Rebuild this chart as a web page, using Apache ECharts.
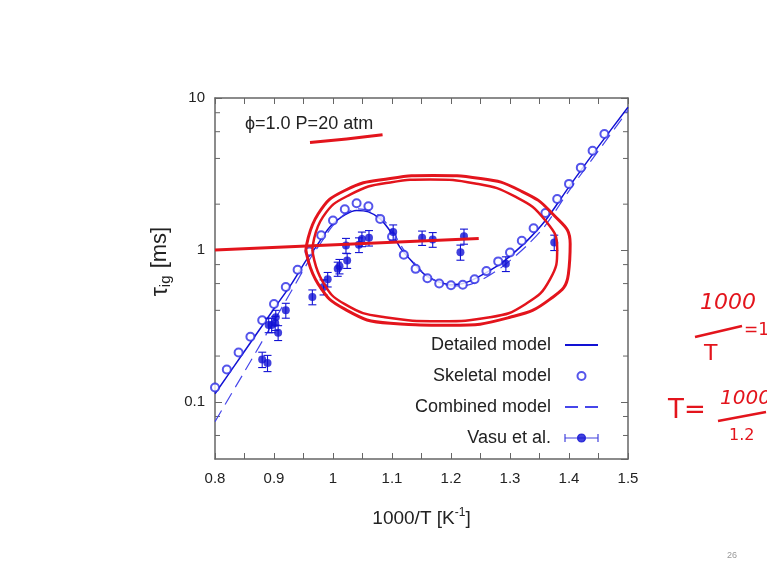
<!DOCTYPE html>
<html>
<head>
<meta charset="utf-8">
<script src="https://cdn.jsdelivr.net/npm/echarts@6/dist/echarts.min.js"></script>
<style>html,body{margin:0;padding:0;background:#fff}#c{width:767px;height:575px}</style>
</head>
<body>
<div id="c"></div>
<script>
// ---- Data ----
const skeletalX = [0.80,0.82,0.84,0.86,0.88,0.90,0.92,0.94,0.96,0.98,1.00,1.02,1.04,1.06,1.08,1.10,1.12,1.14,1.16,1.18,1.20,1.22,1.24,1.26,1.28,1.30,1.32,1.34,1.36,1.38,1.40,1.42,1.44,1.46];
const skeletalY = [0.124,0.163,0.211,0.268,0.344,0.44,0.57,0.74,0.975,1.25,1.56,1.85,2.03,1.94,1.60,1.22,0.93,0.75,0.65,0.60,0.585,0.59,0.64,0.725,0.84,0.96,1.15,1.39,1.75,2.16,2.72,3.48,4.5,5.8];

const detailedX = [0.80,0.85,0.90,0.93,0.955,0.97,0.995,1.02,1.04,1.06,1.08,1.10,1.115,1.135,1.155,1.175,1.20,1.22,1.245,1.28,1.30,1.33,1.36,1.40,1.45,1.50];
const detailedY = [0.113,0.215,0.41,0.60,0.86,1.03,1.42,1.70,1.82,1.78,1.60,1.28,1.02,0.83,0.69,0.625,0.59,0.60,0.66,0.79,0.91,1.16,1.56,2.6,4.8,8.7];

const combinedX = [0.80,0.85,0.90,0.93,0.96,0.98,1.00,1.02,1.04,1.06,1.08,1.10,1.12,1.14,1.16,1.18,1.20,1.22,1.25,1.28,1.30,1.33,1.36,1.40,1.45,1.50];
const combinedY = [0.074,0.158,0.34,0.54,0.86,1.12,1.45,1.72,1.86,1.82,1.66,1.34,1.0,0.80,0.67,0.61,0.58,0.58,0.63,0.74,0.85,1.08,1.45,2.45,4.5,8.3];

const vasuX = [0.880,0.889,0.891,0.896,0.902,0.903,0.907,0.920,0.965,0.984,0.991,1.008,1.011,1.022,1.024,1.044,1.049,1.061,1.102,1.151,1.169,1.216,1.222,1.293,1.375];
const vasuY = [0.19,0.18,0.32,0.32,0.33,0.36,0.285,0.40,0.49,0.57,0.64,0.75,0.78,1.07,0.85,1.08,1.18,1.20,1.31,1.20,1.17,0.965,1.23,0.81,1.12];
const vasuErr = [0.022,0.022,0.035,0.035,0.035,0.04,0.032,0.045,0.055,0.065,0.07,0.08,0.085,0.12,0.095,0.12,0.13,0.14,0.15,0.13,0.13,0.11,0.14,0.09,0.13];

const yDecadeLabels = [0.1, 1, 10];
const yMinorTicks = [0.06,0.08,0.2,0.4,0.6,0.8,2,4,6,8];

// hand-drawn red ink, read in data coordinates
const inkLineX = [0.80,1.247];
const inkLineY = [1.0,1.19];
const inkUnderX = [0.961,1.023,1.084];
const inkUnderY = [5.1,5.38,5.72];
const inkLoop1X = [0.954,0.975,1.020,1.097,1.170,1.250,1.317,1.372,1.402,1.399,1.368,1.300,1.199,1.097,1.020,0.975,0.954];
const inkLoop1Y = [1.0,1.73,2.46,2.95,3.09,2.95,2.46,1.73,1.096,0.694,0.474,0.36,0.319,0.329,0.407,0.595,1.0];
const inkLoop2X = [0.965,0.983,1.029,1.097,1.165,1.241,1.309,1.360,1.380,1.368,1.326,1.266,1.182,1.088,1.020,0.982,0.965];
const inkLoop2Y = [1.0,1.65,2.31,2.78,2.91,2.74,2.24,1.56,1.015,0.642,0.439,0.36,0.339,0.36,0.439,0.623,1.0];

const BLUE = '#1212d4';
const RED = '#e3141c';
const FONT = 'Liberation Sans, Arial, sans-serif';

const zip = (xs, ys) => xs.map((x, i) => [x, ys[i]]);

const chart = echarts.init(document.getElementById('c'), null, {renderer: 'canvas'});

function xAxisDef(pos, showLabel) {
  return {
    type: 'value', position: pos, min: 0.8, max: 1.5, interval: 0.1,
    axisLine: {show: true, onZero: false, lineStyle: {color: '#666', width: 1.5}},
    axisTick: {show: true, inside: true, length: 6, lineStyle: {color: '#666'}},
    minorTick: {show: true, splitNumber: 2, length: 6, lineStyle: {color: '#666'}},
    splitLine: {show: false},
    axisLabel: {show: showLabel, fontSize: 15, color: '#222', margin: 12, fontFamily: FONT},
    name: showLabel ? '1000/T [K{sup|-1}]' : '',
    nameLocation: 'middle', nameGap: 48,
    nameTextStyle: {fontSize: 19, color: '#222', fontFamily: FONT,
      rich: {sup: {fontSize: 12, color: '#222', fontFamily: FONT, padding: [0, 0, 12, 0]}}}
  };
}
function yAxisDef(pos, showLabel) {
  return {
    type: 'log', logBase: 10, position: pos, min: 0.042, max: 10,
    axisLine: {show: true, lineStyle: {color: '#666', width: 1.5}},
    axisTick: {show: true, inside: true, length: 7, lineStyle: {color: '#666'}},
    splitLine: {show: false},
    axisLabel: {show: showLabel, fontSize: 15, color: '#222', margin: 10, fontFamily: FONT,
      showMinLabel: false,
      formatter: v => {
        const hit = yDecadeLabels.find(d => Math.abs(Math.log10(v) - Math.log10(d)) < 1e-6);
        return hit === undefined ? '' : String(hit);
      }},
    name: showLabel ? '{t|τ}{s|ig} [ms]' : '',
    nameLocation: 'middle', nameGap: 34, nameRotate: 90,
    nameTextStyle: {fontSize: 22, color: '#222', fontFamily: FONT, padding: [0, 0, 0, 34],
      rich: {t: {fontSize: 23, color: '#222', fontFamily: FONT},
             s: {fontSize: 15, color: '#222', fontFamily: FONT, padding: [11, 1, 0, 0]}}}
  };
}

const hideSymbol = {opacity: 0};

const option = {
  animation: false,
  backgroundColor: '#ffffff',
  textStyle: {fontFamily: FONT},
  title: {text: 'ϕ=1.0 P=20 atm', left: 240, top: 110,
    textStyle: {fontSize: 18, fontWeight: 'normal', color: '#222', fontFamily: FONT}},
  grid: {left: 215, right: 139, top: 98, bottom: 116, containLabel: false},
  xAxis: [xAxisDef('bottom', true), xAxisDef('top', false)],
  yAxis: [yAxisDef('left', true), yAxisDef('right', false)],
  legend: {
    orient: 'vertical', align: 'right', right: 168, top: 335, padding: 0,
    itemWidth: 33, itemHeight: 8, itemGap: 11,
    textStyle: {fontSize: 18, color: '#222', fontFamily: FONT, lineHeight: 20, padding: [0, 9, 0, 0]},
    selectedMode: false,
    data: [
      {name: 'Detailed model', itemStyle: hideSymbol},
      {name: 'Skeletal model'},
      {name: 'Combined model', itemStyle: hideSymbol},
      {name: 'Vasu et al.', icon: 'path://M0,4L33,4M0,0L0,8M33,0L33,8M20.5,4A4,4,0,1,1,12.5,4A4,4,0,1,1,20.5,4Z',
        itemStyle: {color: BLUE, borderColor: BLUE, borderWidth: 1.2}}
    ]
  },
  series: [
    {name: 'Detailed model', type: 'line', data: zip(detailedX, detailedY), symbol: 'none', smooth: 0.3,
      lineStyle: {color: BLUE, width: 1.5}, itemStyle: {color: BLUE}, z: 3},
    {name: 'Skeletal model', type: 'scatter', data: zip(skeletalX, skeletalY), symbol: 'emptyCircle', symbolSize: 8,
      itemStyle: {color: '#2a2ae6', borderColor: '#2a2ae6', borderWidth: 1.1}, z: 4},
    {name: 'Combined model', type: 'line', data: zip(combinedX, combinedY), symbol: 'none', smooth: 0.3,
      lineStyle: {color: '#4646ea', width: 1.2, type: [13, 7]}, itemStyle: {color: '#4646ea'}, z: 3},
    {name: 'Vasu et al.', type: 'scatter', data: zip(vasuX, vasuY), symbol: 'circle', symbolSize: 8,
      itemStyle: {color: BLUE}, z: 5},
    {type: 'custom', name: 'errbars', silent: true, z: 5,
      data: vasuX.map((x, i) => [x, vasuY[i] - vasuErr[i], vasuY[i] + vasuErr[i]]),
      encode: {x: 0, y: [1, 2]},
      renderItem: (params, api) => {
        const lo = api.coord([api.value(0), api.value(1)]);
        const hi = api.coord([api.value(0), api.value(2)]);
        const st = {stroke: BLUE, lineWidth: 1.1};
        return {type: 'group', children: [
          {type: 'line', shape: {x1: lo[0], y1: lo[1], x2: hi[0], y2: hi[1]}, style: st},
          {type: 'line', shape: {x1: lo[0] - 4, y1: lo[1], x2: lo[0] + 4, y2: lo[1]}, style: st},
          {type: 'line', shape: {x1: hi[0] - 4, y1: hi[1], x2: hi[0] + 4, y2: hi[1]}, style: st}
        ]};
      }},
    {type: 'custom', name: 'yminor', silent: true, z: 2,
      data: yMinorTicks.map(v => [0.8, v]),
      encode: {x: 0, y: 1},
      renderItem: (params, api) => {
        const l = api.coord([0.8, api.value(1)]);
        const r = api.coord([1.5, api.value(1)]);
        const st = {stroke: '#666', lineWidth: 1};
        return {type: 'group', children: [
          {type: 'line', shape: {x1: l[0], y1: l[1], x2: l[0] + 5, y2: l[1]}, style: st},
          {type: 'line', shape: {x1: r[0] - 5, y1: r[1], x2: r[0], y2: r[1]}, style: st}
        ]};
      }},
    {type: 'line', name: 'ink1', data: zip(inkLineX, inkLineY), symbol: 'none', silent: true, z: 8,
      lineStyle: {color: RED, width: 3}},
    {type: 'line', name: 'ink2', data: zip(inkUnderX, inkUnderY), symbol: 'none', smooth: 0.5, silent: true, z: 8,
      lineStyle: {color: RED, width: 3}},
    {type: 'line', name: 'ink3', data: zip(inkLoop1X, inkLoop1Y), symbol: 'none', smooth: 0.5, silent: true, z: 8,
      lineStyle: {color: RED, width: 3}},
    {type: 'line', name: 'ink4', data: zip(inkLoop2X, inkLoop2Y), symbol: 'none', smooth: 0.5, silent: true, z: 8,
      lineStyle: {color: RED, width: 2.5}}
  ],
  graphic: [
    {type: 'text', left: 700, top: 292, style: {text: '1000', fontSize: 22, fontStyle: 'italic', fill: RED, fontFamily: 'DejaVu Sans'}},
    {type: 'line', shape: {x1: 695, y1: 337, x2: 742, y2: 326}, style: {stroke: RED, lineWidth: 2.5}},
    {type: 'text', left: 744, top: 322, style: {text: '=1.', fontSize: 17, fill: RED, fontFamily: 'DejaVu Sans'}},
    {type: 'text', left: 704, top: 343, style: {text: 'T', fontSize: 22, fill: RED, fontFamily: 'DejaVu Sans'}},
    {type: 'text', left: 668, top: 398, style: {text: 'T=', fontSize: 26, fill: RED, fontFamily: 'DejaVu Sans'}},
    {type: 'text', left: 720, top: 389, style: {text: '1000', fontSize: 20, fontStyle: 'italic', fill: RED, fontFamily: 'DejaVu Sans'}},
    {type: 'line', shape: {x1: 718, y1: 421, x2: 766, y2: 412}, style: {stroke: RED, lineWidth: 2.5}},
    {type: 'text', left: 729, top: 428, style: {text: '1.2', fontSize: 16, fill: RED, fontFamily: 'DejaVu Sans'}},
    {type: 'text', left: 727, top: 551, style: {text: '26', fontSize: 9, fill: '#999', fontFamily: FONT}}
  ]
};
chart.setOption(option);
</script>
</body>
</html>
